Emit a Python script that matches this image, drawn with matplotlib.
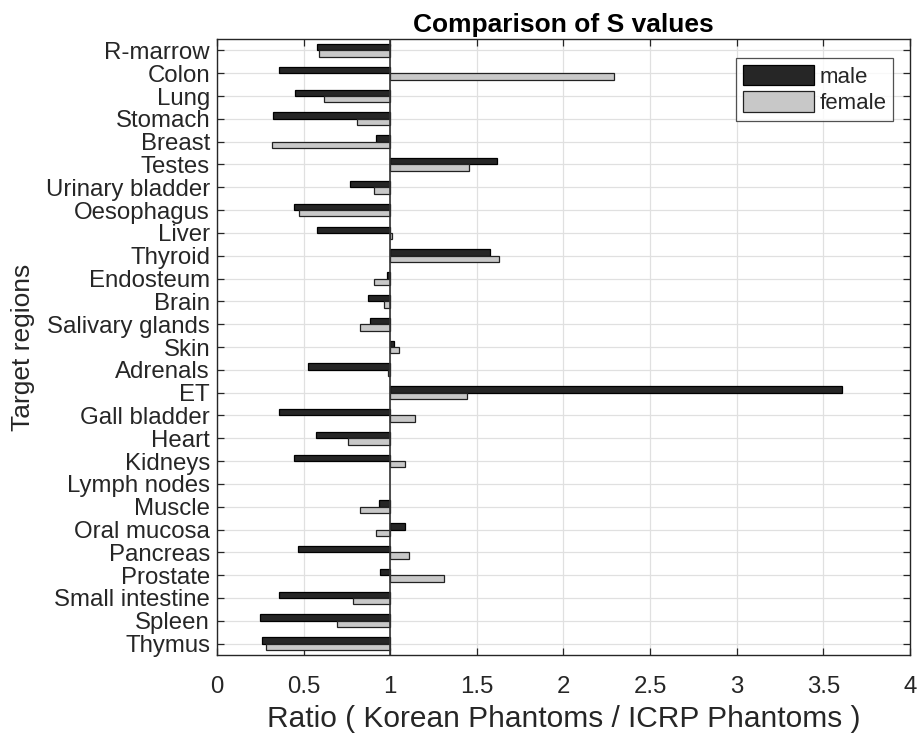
import numpy as np
import matplotlib
matplotlib.use("Agg")
import matplotlib.pyplot as plt
from matplotlib.ticker import FuncFormatter

plt.rcParams['font.family'] = ['Liberation Sans', 'DejaVu Sans']

regions = ["R-marrow", "Colon", "Lung", "Stomach", "Breast", "Testes",
           "Urinary bladder", "Oesophagus", "Liver", "Thyroid", "Endosteum",
           "Brain", "Salivary glands", "Skin", "Adrenals", "ET", "Gall bladder",
           "Heart", "Kidneys", "Lymph nodes", "Muscle", "Oral mucosa",
           "Pancreas", "Prostate", "Small intestine", "Spleen", "Thymus"]

male = [0.58, 0.36, 0.45, 0.325, 0.917, 1.615,
        0.77, 0.442, 0.58, 1.575, 0.98,
        0.869, 0.883, 1.023, 0.523, 3.61, 0.356,
        0.571, 0.442, np.nan, 0.937, 1.087,
        0.469, 0.942, 0.356, 0.248, 0.26]

female = [0.59, 2.29, 0.615, 0.81, 0.317, 1.454,
          0.904, 0.475, 1.01, 1.629, 0.908,
          0.965, 0.827, 1.052, 0.985, 1.442, 1.142,
          0.759, 1.087, np.nan, 0.827, 0.917,
          1.106, 1.308, 0.783, 0.692, 0.283]

xticks = [0, 0.5, 1, 1.5, 2, 2.5, 3, 3.5, 4]
base = 1.0

fig = plt.figure(figsize=(9.21, 7.33), dpi=100)
ax = fig.add_axes([0.2356, 0.1064, 0.7524, 0.8404])

y = np.arange(1, len(regions) + 1)
h = 0.28
m = np.array(male, dtype=float)
f = np.array(female, dtype=float)
ax.barh(y - h / 2, m - base, left=base, height=h, color='#262626',
        edgecolor='black', linewidth=0.9, label='male', zorder=3)
ax.barh(y + h / 2, f - base, left=base, height=h, color='#c8c8c8',
        edgecolor='#222222', linewidth=0.9, label='female', zorder=3)
ax.axvline(base, color='#333333', linewidth=1.2, zorder=4)

ax.set_xlim(0, 4)
ax.set_ylim(len(regions) + 0.5, 0.5)
ax.set_xticks(xticks)
ax.xaxis.set_major_formatter(FuncFormatter(lambda v, p: ('%g' % v)))
ax.set_yticks(y)
ax.set_yticklabels(regions)

ax.grid(True, color='#e0e0e0', linewidth=0.9, zorder=0)
ax.set_axisbelow(True)
ax.tick_params(axis='both', direction='in', length=5, width=0.9,
               top=True, right=True, labelsize=17.3, colors='#262626')
ax.tick_params(axis='x', pad=15)
ax.tick_params(axis='y', pad=5)
for s in ax.spines.values():
    s.set_color('#262626')
    s.set_linewidth(1.0)

ax.set_xlabel('Ratio ( Korean Phantoms / ICRP Phantoms )', fontsize=21.5,
              color='#262626', labelpad=5)
ax.set_ylabel('Target regions', fontsize=19, color='#262626', labelpad=8)
ax.set_title('Comparison of S values', fontsize=19, fontweight='bold',
             color='black', pad=5)

leg = ax.legend(loc='upper right', bbox_to_anchor=(0.9755, 0.969),
                borderaxespad=0, fontsize=16, handlelength=3.2,
                handleheight=1.05, handletextpad=0.25, labelspacing=0.15,
                borderpad=0.3, fancybox=False, frameon=True)
leg.get_frame().set_edgecolor('#262626')
leg.get_frame().set_linewidth(0.9)
for t in leg.get_texts():
    t.set_color('#262626')

fig.savefig('out.png', dpi=100)
